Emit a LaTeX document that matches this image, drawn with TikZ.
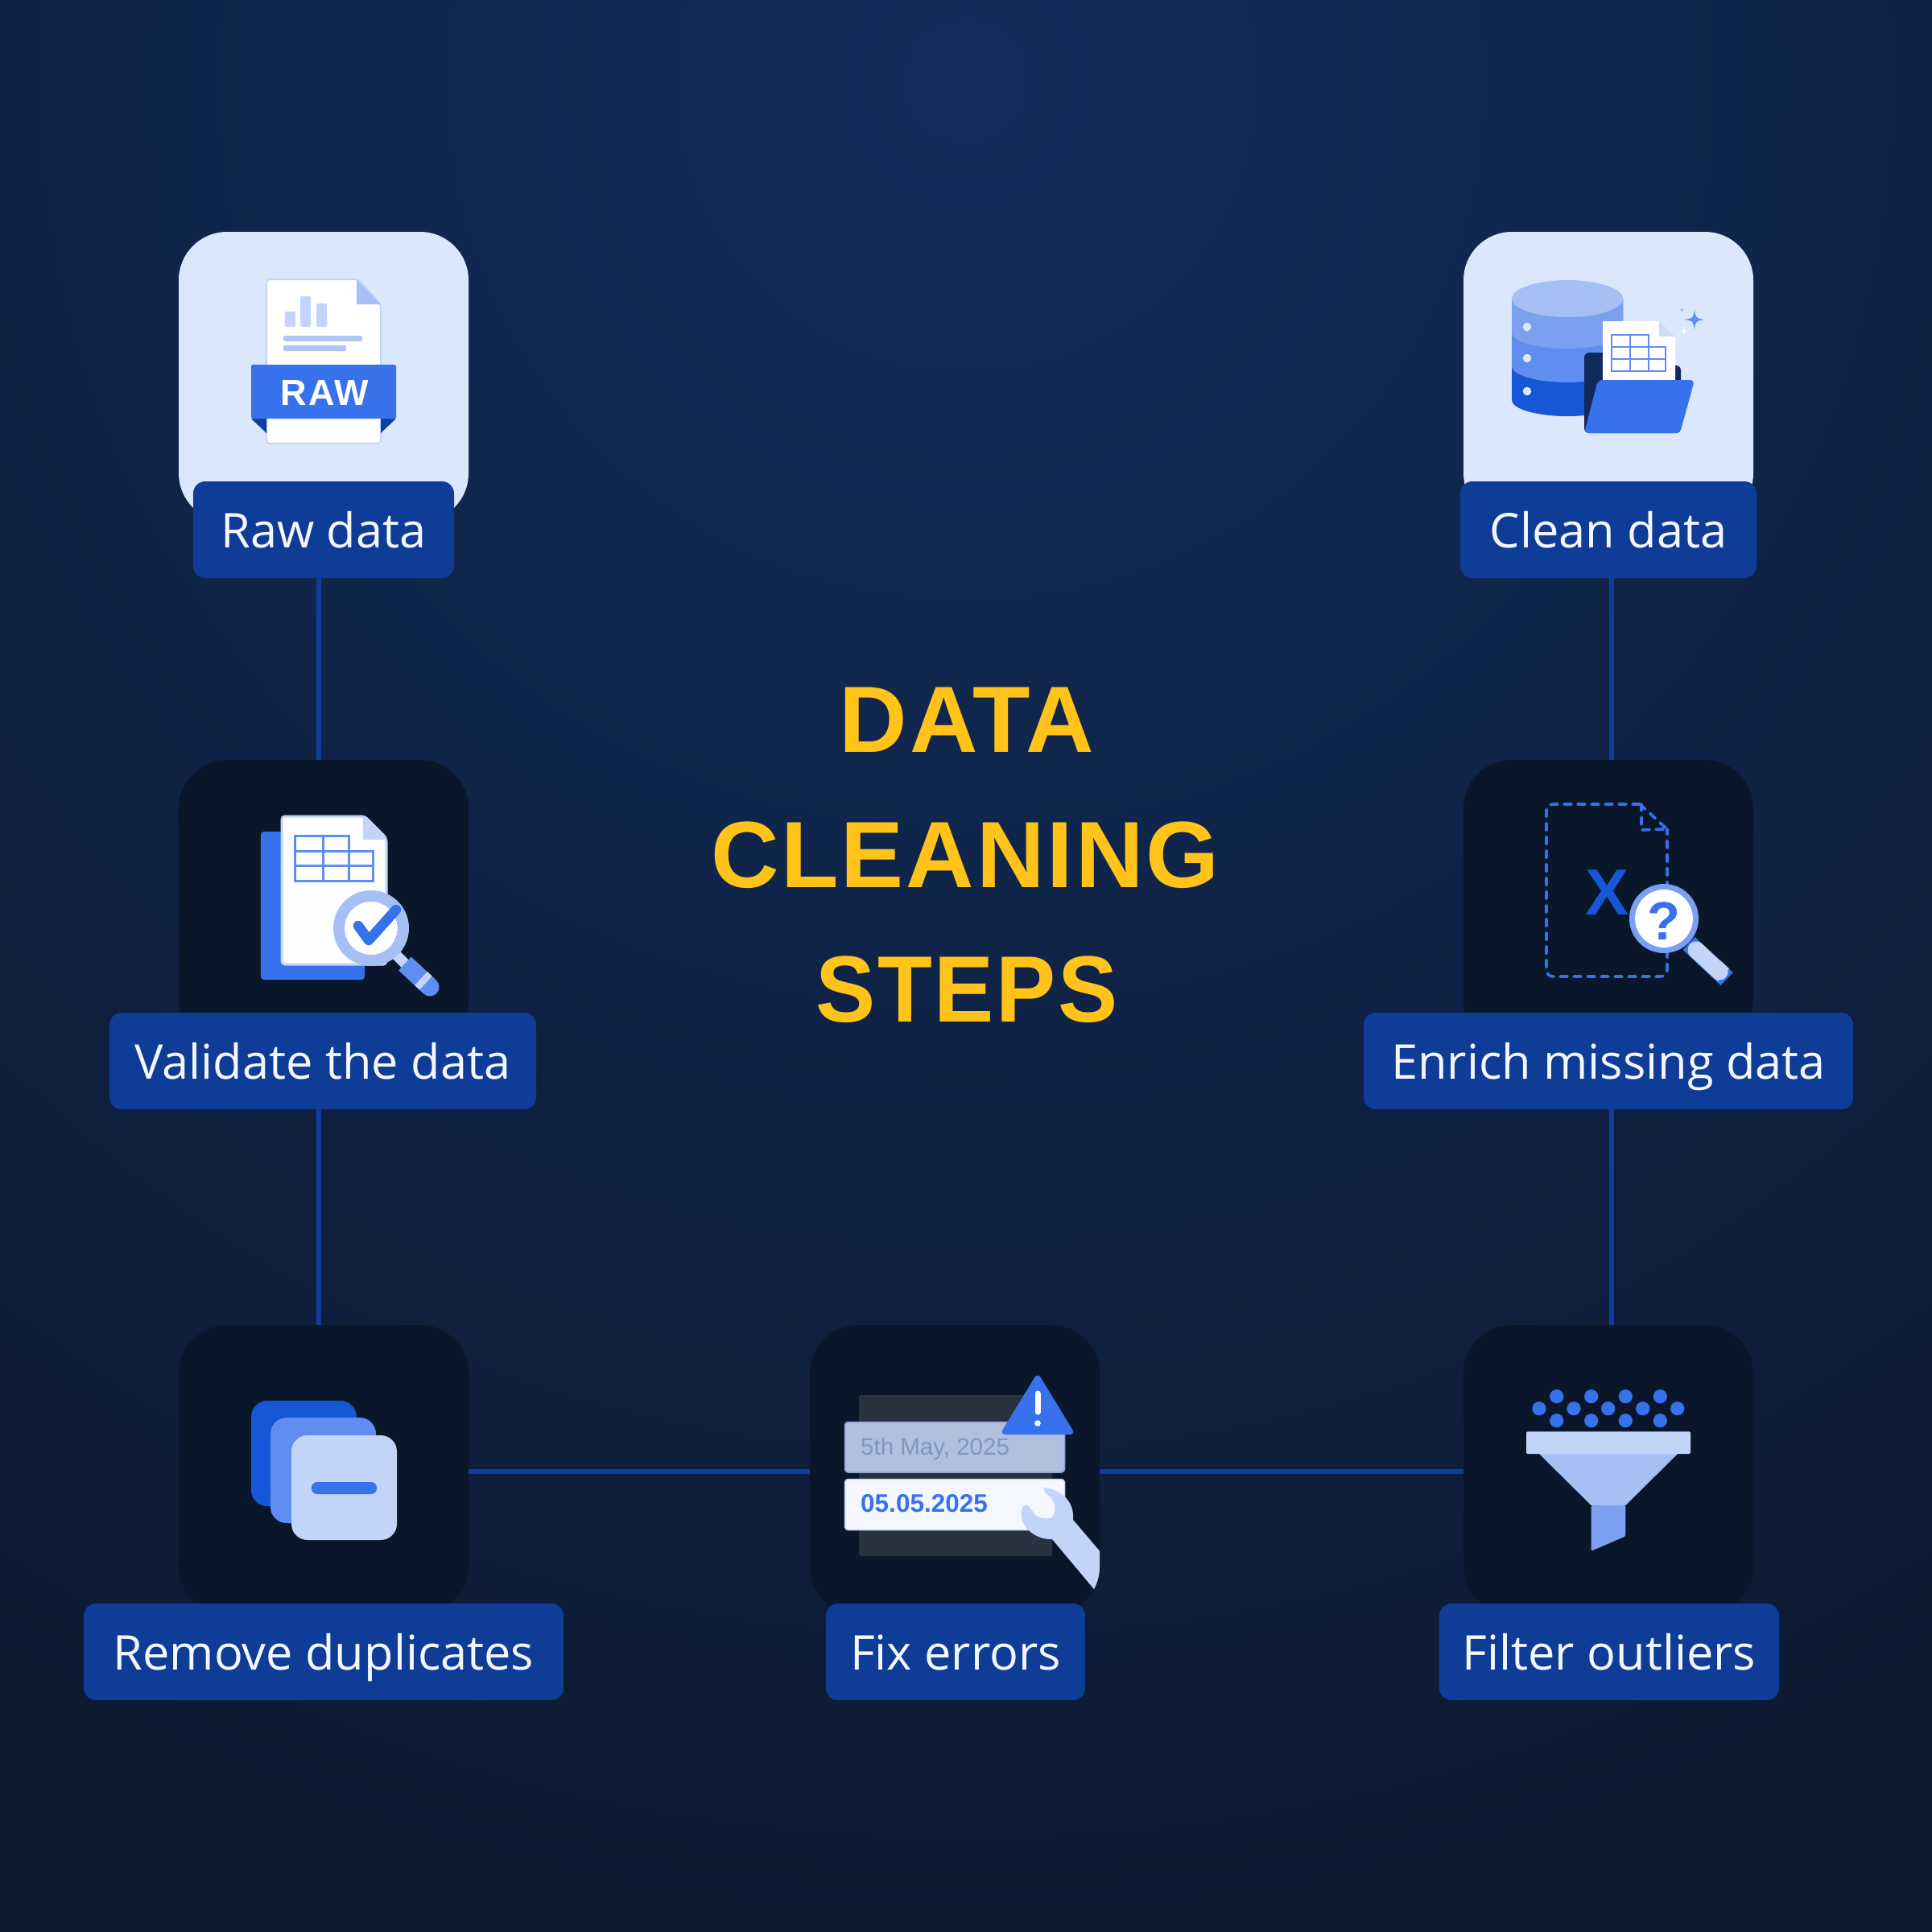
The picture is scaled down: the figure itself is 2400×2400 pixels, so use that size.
\documentclass[tikz,border=0pt]{standalone}
\usepackage{fontspec}
\setmainfont{Open Sans}
\newfontfamily\boldsans{Liberation Sans}
\newfontfamily\titlefont[LetterSpace=2.5]{Liberation Sans}
\newfontfamily\rawfont[LetterSpace=5]{Liberation Sans}
\usetikzlibrary{calc}
\definecolor{bgA}{HTML}{142C5A}
\definecolor{bgB}{HTML}{10254A}
\definecolor{bgD}{HTML}{0F2040}
\definecolor{bgC}{HTML}{0D1A30}
\definecolor{bgE}{HTML}{0C182C}
\definecolor{lightcard}{HTML}{DBE7FD}
\definecolor{darkcard}{HTML}{0A172B}
\definecolor{labelblue}{HTML}{0F3C96}
\definecolor{linkblue}{HTML}{103C9C}
\definecolor{labeltext}{HTML}{F4F7FF}
\definecolor{titlegold}{HTML}{FFC31A}
\definecolor{bluemain}{HTML}{3772EC}
\definecolor{bluedeep}{HTML}{1557D6}
\definecolor{bluenavy}{HTML}{0F3FA3}
\definecolor{bluemid}{HTML}{5F8EF0}
\definecolor{bluesoft}{HTML}{7BA0F0}
\definecolor{bluepale}{HTML}{A6C0F6}
\definecolor{blueice}{HTML}{C3D4F9}
\definecolor{folderback}{HTML}{102A5C}
\definecolor{backsheet}{HTML}{29333F}
\definecolor{oldcard}{HTML}{B0C0DE}
\definecolor{oldedge}{HTML}{8EA4CC}
\definecolor{oldtext}{HTML}{7F96C4}
\pgfdeclareradialshading{bgrad}{\pgfpoint{0bp}{0bp}}{color(0bp)=(bgA); color(8.3bp)=(bgB); color(12.5bp)=(bgD); color(19.2bp)=(bgC); color(25bp)=(bgE); color(50bp)=(bgE)}
\tikzset{
  x=1pt,y=-1pt,
  card/.style={minimum width=360pt,minimum height=360pt,inner sep=0pt,outer sep=0pt,rounded corners=60pt},
  lightc/.style={card,fill=lightcard},
  darkc/.style={card,fill=darkcard},
  tag/.style={fill=labelblue,text=labeltext,rounded corners=15pt,minimum height=120pt,inner sep=0pt,outer sep=0pt,font=\fontsize{59.5}{72}\selectfont,text height=45pt,text depth=0pt},
  link/.style={draw=linkblue,line width=6pt},
  headline/.style={anchor=base,inner sep=0pt,text=titlegold,font=\titlefont\bfseries\fontsize{117}{130}\selectfont},
  txt/.style={inner sep=0pt,anchor=base},
  tablegrid/.style={draw=bluemid,line width=3pt},
  sparkle/.pic={\fill[#1] (0,-1) .. controls (.13,-.13) .. (1,0) .. controls (.13,.13) .. (0,1) .. controls (-.13,.13) .. (-1,0) .. controls (-.13,-.13) .. (0,-1) -- cycle;}
}
\begin{document}
\begin{tikzpicture}
\useasboundingbox (0,0) rectangle (2400,2400);
\begin{scope}
\clip (0,0) rectangle (2400,2400);
\shade[shading=bgrad] (1200,100) circle[radius=3000];
\end{scope}
\coordinate (lx) at (396,0);
\coordinate (rx) at (2002,0);
\coordinate (hy) at (0,1828);
% cards
\node[lightc] (rawc) at (402,468) {};
\node[lightc] (cleanc) at (1998,468) {};
\node[darkc] (valc) at (402,1124) {};
\node[darkc] (enrc) at (1998,1124) {};
\node[darkc] (remc) at (402,1826) {};
\node[darkc] (fixc) at (1186,1826) {};
\node[darkc] (filc) at (1998,1826) {};
% labels
\node[tag,minimum width=324pt] (rawl) at (402,658) {Raw data};
\node[tag,minimum width=368pt] (cleanl) at (1998,658) {Clean data};
\node[tag,minimum width=530pt] (vall) at (401,1318) {Validate the data};
\node[tag,minimum width=608pt] (enrl) at (1998,1318) {Enrich missing data};
\node[tag,minimum width=596pt] (reml) at (402,2052) {Remove duplicates};
\node[tag,minimum width=322pt] (fixl) at (1187,2052) {Fix errors};
\node[tag,minimum width=422pt] (fill) at (1999,2052) {Filter outliers};
% connectors
\draw[link] (rawl.south -| lx) -- (valc.north -| lx);
\draw[link] (vall.south -| lx) -- (remc.north -| lx);
\draw[link] (cleanl.south -| rx) -- (enrc.north -| rx);
\draw[link] (enrl.south -| rx) -- (filc.north -| rx);
\draw[link] (remc.east |- hy) -- (fixc.west |- hy);
\draw[link] (fixc.east |- hy) -- (filc.west |- hy);
% title
\node[headline] (t1) at (1201,934) {DATA};
\node[headline] (t2) at (1199,1102) {CLEANING};
\node[headline] (t3) at (1201,1269) {\scalebox{.95}[1]{STEPS}};
% RAW icon
\draw[fill=white,draw=blueice,line width=2pt,rounded corners=4pt] (331,347) -- (445,347) -- (473,378) -- (473,551) -- (331,551) -- cycle;
\fill[bluepale] (443,347) -- (473,378) -- (443,378) -- cycle;
\fill[blueice,rounded corners=1.5pt] (354,387) rectangle (367,406);
\fill[blueice,rounded corners=1.5pt] (373,368) rectangle (386,406);
\fill[blueice,rounded corners=1.5pt] (393,377) rectangle (406,406);
\fill[bluepale!90!white,rounded corners=1.5pt] (352,417) rectangle (450,424);
\fill[bluepale!90!white,rounded corners=1.5pt] (352,429) rectangle (430,436);
\fill[bluenavy] (312,520) -- (331,520) -- (331,538) -- cycle;
\fill[bluenavy] (492,520) -- (473,520) -- (473,538) -- cycle;
\fill[bluemain,rounded corners=2pt] (312,453) rectangle (492,520);
\node[txt,text=white,font=\rawfont\bfseries\fontsize{45}{50}\selectfont] (rawtxt) at (403.5,503) {RAW};
% Clean data icon
\fill[bluedeep] (1878,371) -- (1878,497) arc[start angle=180,end angle=0,x radius=69,y radius=20] -- (2016,371) -- cycle;
\fill[bluemid] (1878,371) -- (1878,455) arc[start angle=180,end angle=0,x radius=69,y radius=20] -- (2016,371) -- cycle;
\fill[bluesoft] (1878,371) -- (1878,413) arc[start angle=180,end angle=0,x radius=69,y radius=20] -- (2016,371) -- cycle;
\fill[bluepale] (1947,371) ellipse[x radius=69,y radius=23];
\fill[lightcard!90!white] (1897,406) circle[radius=5.3];
\fill[lightcard!90!white] (1897,445) circle[radius=5.3];
\fill[lightcard!90!white] (1897,486) circle[radius=5.3];
\fill[folderback,rounded corners=6pt] (1968,438) -- (2040,438) -- (2040,454) -- (2088,454) -- (2088,538) -- (1968,538) -- cycle;
\fill[white] (1991,399) -- (2061,399) -- (2081,418) -- (2081,480) -- (1991,480) -- cycle;
\fill[blueice!85!white] (2061,399) -- (2081,418) -- (2061,418) -- cycle;
\draw[draw=bluemid,line width=2pt] (2002,416) -- (2048,416) -- (2048,431) -- (2069,431) -- (2069,461) -- (2002,461) -- cycle
  (2002,431) -- (2048,431) (2002,446) -- (2069,446) (2025,416) -- (2025,461) (2048,431) -- (2048,461);
\fill[bluemain,rounded corners=6pt] (1985,472) -- (2105,472) -- (2087,538) -- (1968,538) -- cycle;
\pic[scale=12.5] at (2105,397) {sparkle={bluemid}};
\pic[scale=5.5] at (2092,411) {sparkle={white}};
\pic[scale=3.5] at (2089,385) {sparkle={bluepale}};
% Validate icon
\fill[bluemain,rounded corners=4pt] (324,1033) rectangle (453,1217);
\draw[fill=white!97!blueice,draw=blueice,line width=3pt,rounded corners=4pt] (350,1014) -- (453,1014) -- (480,1041) -- (480,1198) -- (350,1198) -- cycle;
\fill[blueice] (451,1014) -- (480,1043) -- (451,1043) -- cycle;
\draw[tablegrid] (366,1038) -- (433,1038) -- (433,1057) -- (463,1057) -- (463,1094) -- (366,1094) -- cycle
  (366,1057) -- (433,1057) (366,1075) -- (463,1075) (401,1038) -- (401,1094) (433,1057) -- (433,1094);
\draw[draw=blueice,line width=13pt] (488,1182) -- (508,1202);
\draw[draw=bluemid,line width=23pt,line cap=round] (518,1211) -- (534,1226);
\draw[draw=bluemid,line width=23pt] (503,1197) -- (518,1211);
\draw[draw=blueice,line width=23pt] (523,1215.5) -- (529,1221);
\fill[white] (461,1153) circle[radius=33];
\draw[draw=bluepale,line width=14pt] (461,1153) circle[radius=40];
\draw[draw=bluemain,line width=12.5pt,line cap=round,line join=round] (445,1150) -- (458,1168) -- (492,1130);
% Enrich icon
\draw[draw=bluemain,line width=3.6pt,dash pattern=on 9pt off 8pt,rounded corners=8pt,line cap=round] (2037,999) -- (1921,999) -- (1921,1213) -- (2071,1213) -- (2071,1030);
\draw[draw=bluemain,line width=3.6pt,dash pattern=on 9pt off 8pt,line cap=round] (2037,999) -- (2071,1030) -- (2039,1031) -- (2039,999);
\node[txt,text=bluedeep,font=\boldsans\bfseries\fontsize{81}{90}\selectfont] (xmark) at (1996.5,1136) {X};
\draw[draw=bluemain,line width=22pt] (2098,1172) -- (2145,1216);
\draw[draw=blueice,line width=21pt,line cap=round] (2107,1180) -- (2136,1207);
\draw[draw=blueice,line width=21pt] (2130,1201) -- (2141,1211);
\fill[white] (2067,1141) circle[radius=38];
\draw[draw=bluesoft,line width=7pt] (2067,1141) circle[radius=39.5];
\node[txt,text=bluemain,font=\boldsans\bfseries\fontsize{67}{75}\selectfont] (qmark) at (2067,1167) {?};
% Remove icon
\fill[bluedeep,rounded corners=20pt] (312,1740) rectangle (443,1871);
\fill[bluemid,rounded corners=20pt] (336,1761) rectangle (467,1892);
\fill[blueice,rounded corners=20pt] (362,1783) rectangle (493,1913);
\fill[bluemain,rounded corners=7pt] (387,1841) rectangle (468,1856);
% Fix icon
\fill[backsheet,rounded corners=3pt] (1067,1733) rectangle (1307,1933);
\draw[fill=oldcard,draw=oldedge,line width=1.5pt,rounded corners=4pt] (1049.5,1766.5) rectangle (1322.5,1829);
\node[txt,anchor=base west,text=oldtext,font=\boldsans\fontsize{29.5}{34}\selectfont] (olddate) at (1069,1807) {5th May, 2025};
\draw[fill=labeltext,draw=blueice,line width=1.5pt,rounded corners=4pt] (1049.5,1837.5) rectangle (1322.5,1900.5);
\node[txt,anchor=base west,text=bluemain,font=\boldsans\bfseries\fontsize{31.5}{36}\selectfont] (newdate) at (1069,1878) {05.05.2025};
\fill[bluemain,rounded corners=7pt] (1289,1705) -- (1336,1782) -- (1242,1782) -- cycle;
\draw[draw=white,line width=7pt,line cap=round] (1289,1731) -- (1289,1754);
\fill[white] (1289,1768) circle[radius=3.8];
\begin{scope}
\clip[rounded corners=60pt] (1006,1646) rectangle (1366,2006);
\fill[blueice] (1297,1848) .. controls (1318,1850) and (1335,1865) .. (1333,1888) -- (1420,1990) -- (1400,2023) -- (1307,1912) .. controls (1285,1913) and (1266,1895) .. (1269,1877) .. controls (1270,1871) and (1272,1869) .. (1274,1869) .. controls (1278,1870) and (1282,1876) .. (1286,1882) .. controls (1292,1887) and (1302,1887) .. (1307,1885) .. controls (1312,1878) and (1312,1868) .. (1305,1860) -- (1297,1852) -- cycle;
\end{scope}
% Filter icon
\foreach \px in {1933.7,1976.7,2019.3,2062.3} {
  \fill[bluemain] (\px,1734.7) circle[radius=8.6];
  \fill[bluemain] (\px,1764.7) circle[radius=8.6];
}
\foreach \px in {1912,1955,1997.7,2040.7,2083.7} {
  \fill[bluemain] (\px,1749.7) circle[radius=8.6];
}
\fill[bluepale] (1911,1805) -- (2085,1805) -- (2019.3,1870) -- (1976.7,1870) -- cycle;
\fill[bluesoft,rounded corners=1.5pt] (1976.7,1870) -- (2019.3,1870) -- (2019.3,1908.3) -- (1976.7,1926.7) -- cycle;
\fill[blueice,rounded corners=2pt] (1896,1778.3) rectangle (2100,1806);
\end{tikzpicture}
\end{document}
